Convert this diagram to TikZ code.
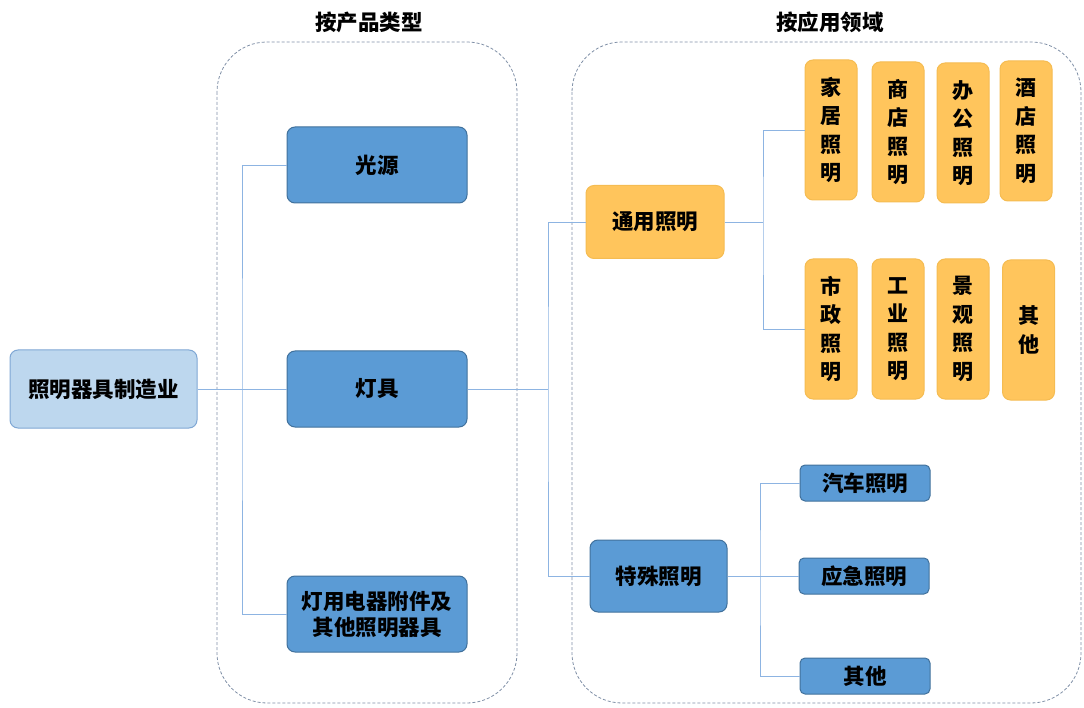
\documentclass[tikz,border=0pt]{standalone}
\usepackage{fontspec}
\newfontfamily\cjk{Noto Sans CJK SC}
\definecolor{rootblue}{HTML}{BDD7EE}
\definecolor{rootedge}{HTML}{7FA7D4}
\definecolor{boxblue}{HTML}{5B9BD5}
\definecolor{edgeblue}{HTML}{41719C}
\definecolor{boxorange}{HTML}{FFC55C}
\definecolor{edgeorange}{HTML}{F5BC52}
\definecolor{linkblue}{HTML}{8DB4E2}
\definecolor{regiongray}{HTML}{7F8FA6}
\begin{document}
\begin{tikzpicture}[x=1pt, y=-1pt,
  box/.style={draw, rounded corners=8pt, line width=1pt, align=center, inner sep=0pt,
    font=\cjk\bfseries\fontsize{21.5}{26}\selectfont},
  bluebox/.style={box, fill=boxblue, draw=edgeblue},
  orangebox/.style={box, fill=boxorange, draw=edgeorange},
  vbox/.style={orangebox, minimum width=52pt, minimum height=140pt,
    font=\cjk\bfseries\fontsize{21}{28.5}\selectfont},
  subbox/.style={bluebox, rounded corners=5pt, minimum width=130pt, minimum height=36pt},
  region/.style={draw=regiongray, densely dashed, line width=0.8pt, rounded corners=50pt},
  link/.style={draw=linkblue, line width=0.9pt},
  title/.style={font=\cjk\bfseries\fontsize{21.5}{26}\selectfont}]
\useasboundingbox (0,0) rectangle (1084,708);

\draw[region] (217,42) rectangle (517,703);
\draw[region] (572,42) rectangle (1081,703);
\node[title] (ptitle) at (369,22) {按产品类型};
\node[title] (atitle) at (830,22) {按应用领域};

\node[box, fill=rootblue, draw=rootedge, minimum width=187pt, minimum height=78pt] (root) at (103.5,389) {照明器具制造业};
\node[bluebox, minimum width=180pt, minimum height=76pt] (guangyuan) at (377,165) {光源};
\node[bluebox, minimum width=180pt, minimum height=76pt] (dengju) at (377,389) {灯具};
\node[bluebox, minimum width=180pt, minimum height=76pt] (fujian) at (377,614) {灯用电器附件及\\其他照明器具};

\node[orangebox, minimum width=138pt, minimum height=73pt] (tongyong) at (655,222) {通用照明};
\node[bluebox, minimum width=137pt, minimum height=72pt] (teshu) at (658.5,576) {特殊照明};

\node[vbox] (jiaju) at (831,130) {家\\居\\照\\明};
\node[vbox] (shangdian) at (898,132) {商\\店\\照\\明};
\node[vbox] (bangong) at (963,133) {办\\公\\照\\明};
\node[vbox] (jiudian) at (1026,131) {酒\\店\\照\\明};
\node[vbox] (shizheng) at (831,329) {市\\政\\照\\明};
\node[vbox] (gongye) at (898,329) {工\\业\\照\\明};
\node[vbox] (jingguan) at (963,329) {景\\观\\照\\明};
\node[vbox] (qita) at (1028.5,330) {其\\他};

\node[subbox] (qiche) at (865,483) {汽车照明};
\node[subbox] (yingji) at (864,576) {应急照明};
\node[subbox] (qitab) at (865,676) {其他};

\coordinate (lspine) at (242,389);
\coordinate (mspine) at (548,389);
\coordinate (gspine) at (763,222);
\coordinate (sspine) at (760,576);

\draw[link] (root.east) -- (dengju.west);
\draw[link] (guangyuan.west) -| (lspine) |- (fujian.west);
\draw[link] (dengju.east) -- (mspine);
\draw[link] (tongyong.west) -| (mspine) |- (teshu.west);
\draw[link] (tongyong.east) -- (gspine);
\draw[link] (jiaju.west) -| (gspine) |- (shizheng.west);
\draw[link] (qiche.west) -| (sspine) |- (qitab.west);
\draw[link] (teshu.east) -- (yingji.west);
\end{tikzpicture}
\end{document}
